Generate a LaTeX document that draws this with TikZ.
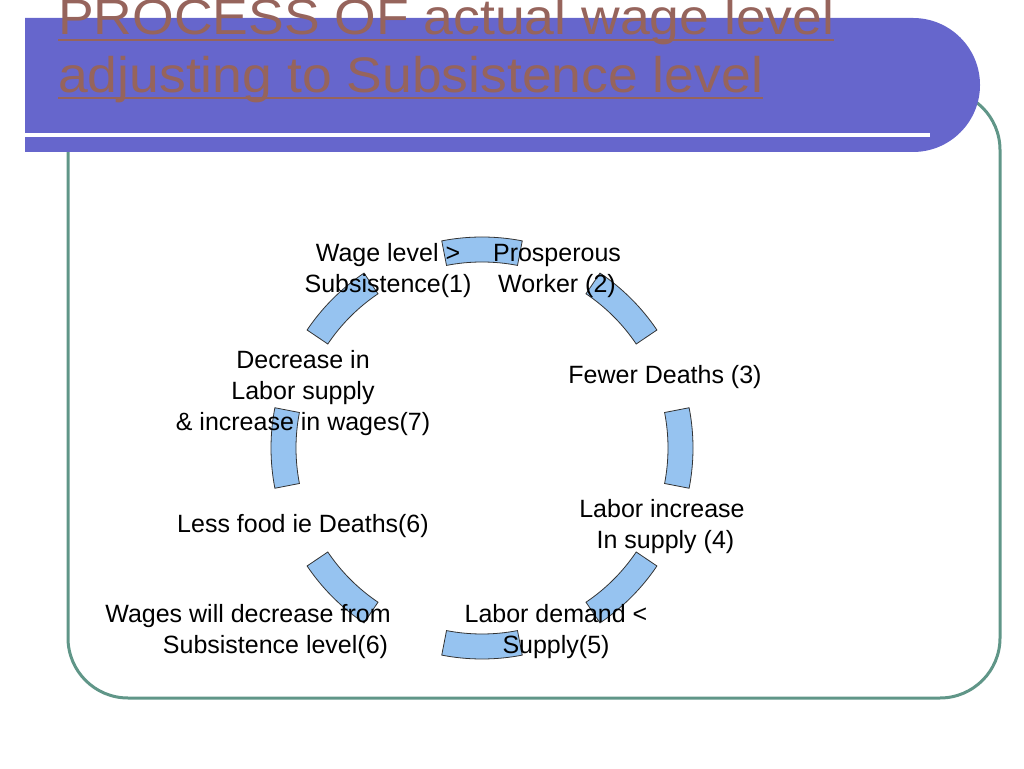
\documentclass[tikz,border=0pt]{standalone}
\usepackage{fontspec}
\setmainfont{Liberation Sans}
\newfontfamily\ttlfont[FakeStretch=1.07]{Liberation Sans}
\begin{document}
\begin{tikzpicture}[x=1pt,y=1pt,
  lbl/.style={align=center,font=\fontsize{25}{31}\selectfont,inner sep=0pt},
  ttlstyle/.style={anchor=base west,text=ttl,font=\ttlfont\fontsize{50}{51}\selectfont,inner sep=0pt},
  seg/.style={fill={rgb,255:red,150;green,195;blue,240},draw=black!80,line width=0.8pt}]
\definecolor{band}{RGB}{102,102,204}
\definecolor{frame}{RGB}{96,150,136}
\definecolor{ttl}{RGB}{150,100,92}
\useasboundingbox (0,0) rectangle (1024,768);
\clip (0,0) rectangle (1024,768);
\draw[frame,line width=3pt,rounded corners=60pt] (68,70) rectangle (1000,678);
\fill[band] (25,750) -- (913,750) arc[start angle=90,end angle=-90,radius=67] -- (25,616) -- cycle;
\fill[white] (25,631) rectangle (930,635);
\node[ttlstyle] (t1) at (58,733) {PROCESS OF actual wage level};
\node[ttlstyle] (t2) at (58,675) {adjusting to Subsistence level};
\draw[ttl,line width=1.5pt] ([yshift=-5pt]t1.base west) -- ([yshift=-5pt]t1.base east);
\draw[ttl,line width=1.5pt] ([yshift=-5pt]t2.base west) -- ([yshift=-5pt]t2.base east);
\coordinate (c) at (482,320);
\foreach \a in {90,45,0,-45,-90,-135,180,135}{
  \draw[seg] ([shift=({\a-11}:211)]c) arc[start angle=\a-11,end angle=\a+11,radius=211]
    -- ([shift=({\a+11}:186)]c) arc[start angle=\a+11,end angle=\a-11,radius=186] -- cycle;
}
\node[lbl] (n1) at (388,497) {Wage level >\\Subsistence(1)};
\node[lbl] (n2) at (557,497) {Prosperous\\Worker (2)};
\node[lbl] (n3) at (665,391) {Fewer Deaths (3)};
\node[lbl] (n4) at (662,241) {Labor increase\\\ In supply (4)};
\node[lbl] (n5) at (556,136) {Labor demand <\\Supply(5)};
\node[lbl] (n6) at (248,136) {Wages will decrease from\\\hspace*{2.2em}Subsistence level(6)};
\node[lbl] (n7) at (303,242) {Less food ie Deaths(6)};
\node[lbl] (n8) at (303,375) {Decrease in\\Labor supply\\\& increase in wages(7)};
\end{tikzpicture}
\end{document}
